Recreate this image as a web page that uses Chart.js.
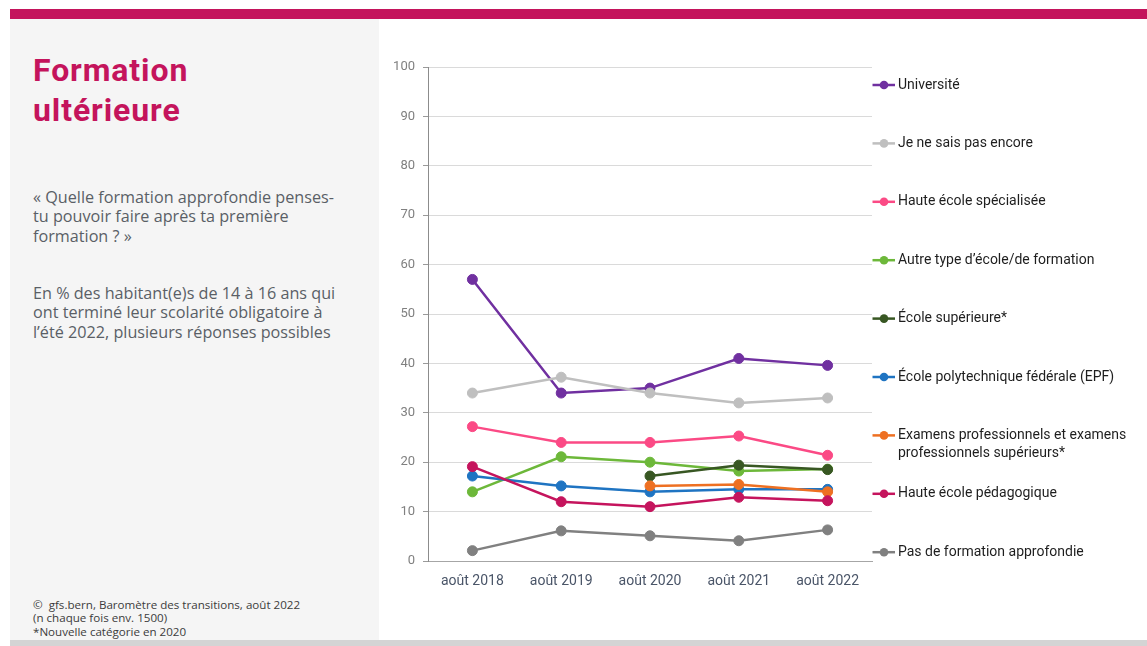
<!DOCTYPE html>
<html lang="fr">
<head>
<meta charset="utf-8">
<script src="https://cdn.jsdelivr.net/npm/chart.js@4.4.0/dist/chart.umd.min.js"></script>
<style>
  html, body { margin: 0; padding: 0; background: #ffffff; }
  body { width: 1147px; height: 646px; position: relative; overflow: hidden; font-family: Roboto, "Noto Sans", sans-serif; }
  #topbar { position: absolute; left: 10px; top: 9px; width: 1137px; height: 10px; background: #c4145c; }
  #panel { position: absolute; left: 10px; top: 19px; width: 369px; height: 621px; background: #f5f5f5; }
  #bottom { position: absolute; left: 10px; top: 640px; width: 1137px; height: 6px; background: #d4d4d4; }
  .txt { position: absolute; left: 33px; white-space: nowrap; }
  #title { top: 49.5px; font-size: 32px; line-height: 40px; font-weight: 700; color: #c4145c; letter-spacing: 0.9px; }
  #q, #p2 { font-family: "Open Sans", Roboto, sans-serif; font-size: 16.2px; line-height: 19.5px; color: #5a5f66; }
  #q { top: 187.9px; }
  #p2 { top: 283.5px; }
  #foot { top: 597.5px; font-family: "Open Sans", Roboto, sans-serif; font-size: 11.6px; line-height: 13.5px; color: #3c3c3c; }
  #wrap { position: absolute; left: 380px; top: 0; width: 767px; height: 646px; }
</style>
</head>
<body>
<div id="topbar"></div>
<div id="panel"></div>
<div id="bottom"></div>
<div class="txt" id="title">Formation<br>ultérieure</div>
<div class="txt" id="q">« Quelle formation approfondie penses-<br>tu pouvoir faire après ta première<br>formation ? »</div>
<div class="txt" id="p2">En % des habitant(e)s de 14 à 16 ans qui<br>ont terminé leur scolarité obligatoire à<br>l’été 2022, plusieurs réponses possibles</div>
<div class="txt" id="foot">©&nbsp; gfs.bern, Baromètre des transitions, août 2022<br>(n chaque fois env. 1500)<br>*Nouvelle catégorie en 2020</div>
<div id="wrap"><canvas id="c" width="767" height="646"></canvas></div>
<script>
// ---- data ----
const categories = ['août 2018', 'août 2019', 'août 2020', 'août 2021', 'août 2022'];
const seriesNames = [
  'Université',
  'Je ne sais pas encore',
  'Haute école spécialisée',
  'Autre type d’école/de formation',
  'École supérieure*',
  'École polytechnique fédérale (EPF)',
  'Examens professionnels et examens professionnels supérieurs*',
  'Haute école pédagogique',
  'Pas de formation approfondie'
];
const universite   = [57, 34, 35, 41, 39.6];
const jeNeSais     = [34, 37.2, 34, 32, 33];
const hes          = [27.2, 24, 24, 25.3, 21.4];
const autreType    = [14, 21.1, 20, 18.2, 18.6];
const ecoleSup     = [null, null, 17.2, 19.4, 18.5];
const epf          = [17.2, 15.2, 14, 14.5, 14.5];
const examens      = [null, null, 15.2, 15.5, 14];
const hep          = [19.1, 12, 11, 12.9, 12.2];
const pasFormation = [2.1, 6.1, 5.1, 4.1, 6.3];
const seriesValues = [universite, jeNeSais, hes, autreType, ecoleSup, epf, examens, hep, pasFormation];
const seriesColors = ['#7030a0', '#bfbfbf', '#fb4a85', '#6db83a', '#385723', '#1f74c2', '#ee7022', '#c5145d', '#808080'];
const yMin = 0, yMax = 100, yStep = 10;

const FONT = 'Roboto, "Noto Sans", sans-serif';

const datasets = seriesValues.map((vals, i) => ({
  label: seriesNames[i],
  data: vals,
  borderColor: seriesColors[i],
  backgroundColor: seriesColors[i],
  pointBackgroundColor: seriesColors[i],
  pointBorderColor: seriesColors[i],
  pointRadius: 5,
  pointBorderWidth: 1,
  borderWidth: 2.5,
  tension: 0,
  fill: false,
  order: seriesValues.length - i
}));

function wrapLegend(name) {
  if (name.length > 40) {
    const idx = name.lastIndexOf(' professionnels');
    return [name.slice(0, idx), name.slice(idx + 1)];
  }
  return [name];
}

const legendPlugin = {
  id: 'sideLegend',
  afterDraw(chart) {
    const ctx = chart.ctx;
    const a = chart.chartArea;
    ctx.save();
    chart.data.datasets.forEach((ds, i) => {
      const y = a.top + 18 + i * 58.4;
      const x0 = a.right + 0.5;
      ctx.strokeStyle = ds.borderColor;
      ctx.lineWidth = 2.5;
      ctx.beginPath();
      ctx.moveTo(x0, y);
      ctx.lineTo(x0 + 22.5, y);
      ctx.stroke();
      ctx.fillStyle = ds.borderColor;
      ctx.beginPath();
      ctx.arc(x0 + 11.5, y, 4.3, 0, Math.PI * 2);
      ctx.fill();
      ctx.fillStyle = '#1e1e1e';
      ctx.font = '14px ' + FONT;
      ctx.textBaseline = 'middle';
      ctx.textAlign = 'left';
      wrapLegend(ds.label).forEach((line, k) => {
        ctx.fillText(line, x0 + 25.5, y + k * 17.7);
      });
    });
    ctx.restore();
  }
};

new Chart(document.getElementById('c'), {
  type: 'line',
  data: { labels: categories, datasets },
  options: {
    responsive: false,
    animation: false,
    events: [],
    layout: { padding: { left: 0, top: 67, right: 275, bottom: 45 } },
    plugins: { legend: { display: false }, tooltip: { enabled: false } },
    scales: {
      x: {
        offset: true,
        grid: { display: false, drawTicks: false },
        border: { display: true, color: '#a6a6a6', width: 1 },
        ticks: { color: '#4a5568', font: { family: FONT, size: 14 }, padding: 12, maxRotation: 0 },
        afterFit(s) { s.height = 40; }
      },
      y: {
        min: yMin, max: yMax,
        ticks: { stepSize: yStep, color: '#808080', font: { family: FONT, size: 13 }, padding: 8 },
        grid: { color: '#dadada', lineWidth: 1, drawTicks: true, tickLength: 5, tickColor: '#9a9a9a' },
        border: { display: true, color: '#8c8c8c', width: 1 },
        afterFit(s) { s.width = 48; }
      }
    }
  },
  plugins: [legendPlugin]
});
</script>
</body>
</html>
